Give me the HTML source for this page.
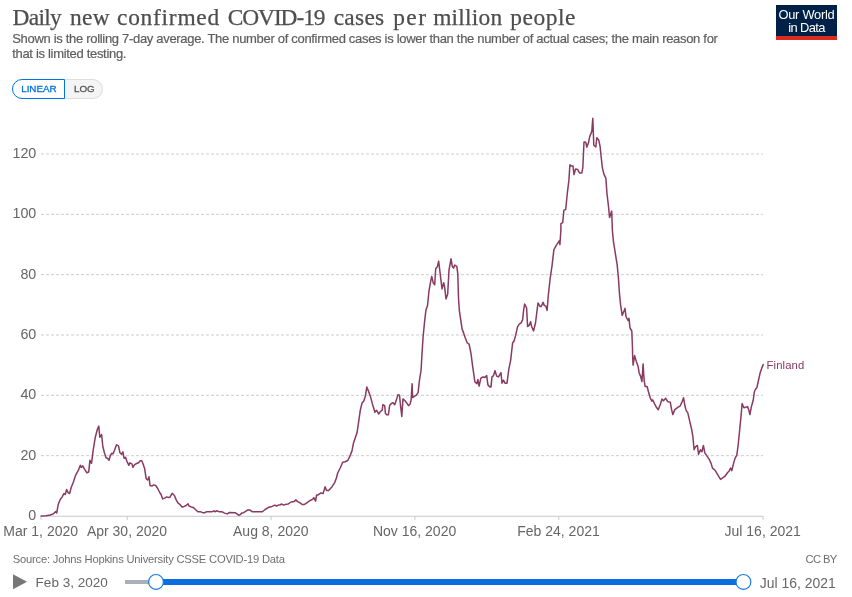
<!DOCTYPE html>
<html><head><meta charset="utf-8"><title>Daily new confirmed COVID-19 cases per million people</title>
<style>
html,body{margin:0;padding:0;background:#fff;}
body{width:852px;height:597px;position:relative;overflow:hidden;font-family:"Liberation Sans",sans-serif;}
.title span{position:absolute;top:0;}
.title{position:absolute;left:0;top:2px;width:600px;height:30px;font-family:"Liberation Serif",serif;font-size:23.4px;color:#4e4e4e;white-space:nowrap;line-height:30px;-webkit-text-stroke:0.25px #4e4e4e;}
.sub{position:absolute;left:12.2px;top:32.3px;font-size:13px;letter-spacing:-0.31px;line-height:14.3px;color:#5e5e5e;white-space:nowrap;-webkit-text-stroke:0.2px #5e5e5e;}
.logo{position:absolute;left:776px;top:5px;width:61px;height:31px;background:#002147;border-bottom:4px solid #dc2a1f;color:#fff;text-align:center;white-space:nowrap;}
.logo span{display:block;position:absolute;left:0;width:61px;line-height:14px;}
.l1{top:3.1px;font-size:12.9px;letter-spacing:-0.27px;}
.l2{top:16.1px;font-size:12.9px;letter-spacing:-0.6px;}
.btns{position:absolute;left:12px;top:79px;height:20px;display:flex;font-size:9.8px;}
.btns div{box-sizing:border-box;height:19.5px;line-height:18.5px;}
.b1{width:53px;border:1px solid #0073e6;border-radius:10px 0 0 10px;color:#0073e6;padding-left:8.2px;background:#fff;-webkit-text-stroke:0.3px #0073e6;}
.b2{width:38px;border:1px solid #ddd;border-left:none;border-radius:0 10px 10px 0;color:#555;padding-left:9px;background:#f4f4f4;-webkit-text-stroke:0.3px #555;}
svg{position:absolute;left:0;top:0;}
svg text{font-family:"Liberation Sans",sans-serif;}
.src{position:absolute;left:12.7px;top:551.6px;font-size:11.2px;letter-spacing:-0.2px;color:#6e6e6e;line-height:14px;white-space:nowrap;}
.cc{position:absolute;right:15.3px;top:551.6px;font-size:11.2px;letter-spacing:-0.6px;color:#6e6e6e;line-height:14px;}
.t1{position:absolute;left:35.6px;top:574.8px;font-size:13.55px;color:#666;line-height:16px;white-space:nowrap;}
.t2{position:absolute;left:759.8px;top:574.6px;font-size:13.95px;color:#666;line-height:16px;white-space:nowrap;}
</style></head><body>
<div class="title"><span style="left:12.5px;letter-spacing:-0.69px">Daily</span> <span style="left:70.0px;letter-spacing:0.36px">new</span> <span style="left:117.0px;letter-spacing:0.76px">confirmed</span> <span style="left:227.7px;letter-spacing:-1.06px">COVID-19</span> <span style="left:333.7px;letter-spacing:0.29px">cases</span> <span style="left:393.2px;letter-spacing:1.46px">per</span> <span style="left:433.2px;letter-spacing:0.23px">million</span> <span style="left:510.2px;letter-spacing:0.59px">people</span></div>
<div class="sub">Shown is the rolling 7-day average. The number of confirmed cases is lower than the number of actual cases; the main reason for<br>that is limited testing.</div>
<div class="logo"><span class="l1">Our World</span><span class="l2">in Data</span></div>
<div class="btns"><div class="b1">LINEAR</div><div class="b2">LOG</div></div>
<svg width="852" height="597" viewBox="0 0 852 597">
<g>
<line x1="41" x2="763" y1="455.67" y2="455.67" stroke="#cdcdcd" stroke-dasharray="3,2"/>
<line x1="41" x2="763" y1="395.33" y2="395.33" stroke="#cdcdcd" stroke-dasharray="3,2"/>
<line x1="41" x2="763" y1="335.00" y2="335.00" stroke="#cdcdcd" stroke-dasharray="3,2"/>
<line x1="41" x2="763" y1="274.67" y2="274.67" stroke="#cdcdcd" stroke-dasharray="3,2"/>
<line x1="41" x2="763" y1="214.33" y2="214.33" stroke="#cdcdcd" stroke-dasharray="3,2"/>
<line x1="41" x2="763" y1="154.00" y2="154.00" stroke="#cdcdcd" stroke-dasharray="3,2"/>
<line x1="40.5" x2="763.5" y1="516.25" y2="516.25" stroke="#c8c8c8"/>
<line x1="41" x2="41" y1="516.25" y2="519.9" stroke="#c8c8c8"/>
<line x1="127.3" x2="127.3" y1="516.25" y2="519.9" stroke="#c8c8c8"/>
<line x1="271.1" x2="271.1" y1="516.25" y2="519.9" stroke="#c8c8c8"/>
<line x1="414.9" x2="414.9" y1="516.25" y2="519.9" stroke="#c8c8c8"/>
<line x1="558.8" x2="558.8" y1="516.25" y2="519.9" stroke="#c8c8c8"/>
<line x1="763" x2="763" y1="516.25" y2="519.9" stroke="#c8c8c8"/>
</g>
<g font-size="14" fill="#666">
<text x="40.7" y="535.8" text-anchor="middle">Mar 1, 2020</text>
<text x="127.0" y="535.8" text-anchor="middle">Apr 30, 2020</text>
<text x="270.8" y="535.8" text-anchor="middle">Aug 8, 2020</text>
<text x="414.6" y="535.8" text-anchor="middle">Nov 16, 2020</text>
<text x="558.5" y="535.8" text-anchor="middle">Feb 24, 2021</text>
<text x="762.7" y="535.8" text-anchor="middle">Jul 16, 2021</text>
</g>
<g font-size="14.3" fill="#666">
<text x="36.3" y="519.9" text-anchor="end">0</text>
<text x="36.3" y="459.6" text-anchor="end">20</text>
<text x="36.3" y="399.2" text-anchor="end">40</text>
<text x="36.3" y="338.9" text-anchor="end">60</text>
<text x="36.3" y="278.6" text-anchor="end">80</text>
<text x="36.3" y="218.2" text-anchor="end">100</text>
<text x="36.3" y="157.9" text-anchor="end">120</text>
</g>
<polyline fill="none" stroke="#883a62" stroke-width="1.5" stroke-linejoin="round" stroke-linecap="round" points="41.1,516.0 46.1,515.8 50.1,515.0 53.1,514.0 55.7,511.6 56.7,513.0 58.2,504.6 60.2,499.5 62.2,496.9 63.8,493.7 65.2,494.5 66.6,489.5 68.2,492.9 69.6,493.5 71.2,487.5 73.2,482.4 75.8,474.8 78.3,470.4 80.3,465.3 81.3,467.4 82.7,465.8 84.7,469.4 86.9,472.8 88.7,472.0 89.9,460.3 91.5,463.3 93.3,449.3 95.3,437.2 97.4,429.2 98.8,426.1 99.8,437.2 101.6,434.6 102.8,446.2 104.4,452.7 106.0,457.7 107.4,458.3 109.0,460.3 110.4,455.3 111.8,453.3 113.0,453.9 114.5,450.3 116.5,444.8 118.5,445.8 119.9,452.7 121.5,454.3 122.9,451.9 124.1,458.3 125.5,457.3 126.9,461.3 128.9,465.3 129.9,462.9 131.9,463.9 132.9,467.4 134.6,464.7 136.6,463.5 138.6,462.7 140.2,460.7 141.8,460.7 143.2,464.3 144.6,468.4 146.2,478.8 147.6,480.0 149.0,476.8 150.0,485.5 151.8,486.1 153.7,484.9 155.7,485.5 157.7,488.5 159.7,492.5 161.1,494.5 162.7,498.9 164.7,498.1 166.7,496.9 168.7,497.5 170.0,497.2 172.1,493.3 174.4,495.5 176.2,499.9 177.9,502.9 179.7,504.3 182.0,506.9 184.1,506.4 186.2,505.5 188.0,503.7 189.0,506.0 191.1,506.9 193.2,507.4 195.5,509.5 197.8,511.7 200.8,511.8 202.6,512.7 204.9,512.7 206.6,511.7 212.3,511.7 214.0,510.8 214.9,511.8 217.2,510.8 218.9,511.7 221.9,511.8 224.6,513.1 227.2,513.9 229.5,512.5 235.1,512.7 238.7,515.2 240.1,514.8 241.8,513.1 243.6,512.7 245.7,511.3 247.8,509.9 250.1,510.1 252.4,511.8 262.4,511.8 265.1,509.5 268.6,507.3 272.1,506.4 274.8,505.1 276.5,506.0 278.3,505.1 280.6,504.8 281.3,503.9 283.6,505.1 286.2,504.3 288.3,503.9 291.1,502.0 294.1,501.6 295.9,499.9 297.6,501.6 300.3,503.0 302.0,504.4 304.5,504.4 307.5,502.4 310.6,500.2 312.6,499.4 313.8,497.6 315.6,501.2 316.6,494.9 318.1,494.9 320.6,493.1 323.1,493.6 325.1,486.8 326.6,490.6 328.6,490.6 331.4,487.6 334.7,482.6 336.4,478.0 337.7,473.0 340.2,468.0 342.7,462.2 345.2,461.7 347.7,460.5 349.7,456.7 352.0,450.9 353.5,442.9 355.3,437.8 357.0,432.8 358.5,422.8 360.3,410.2 362.1,402.7 363.6,401.4 365.3,396.4 366.8,387.1 368.6,391.4 370.4,396.4 372.4,403.9 373.6,407.7 374.9,412.2 376.6,410.2 378.6,414.0 380.4,411.5 382.2,410.2 382.9,404.7 384.7,405.7 385.4,413.2 386.7,414.7 388.4,414.7 389.7,405.2 391.5,403.4 393.0,402.7 394.7,404.7 396.5,399.6 398.0,394.6 399.5,395.1 400.5,405.2 401.8,416.5 403.0,398.9 405.0,400.7 406.5,402.7 408.5,405.7 410.1,403.9 411.1,400.2 412.1,383.8 412.6,397.6 414.3,396.4 416.3,395.1 418.1,392.6 419.3,381.3 421.1,370.0 421.9,355.5 423.1,336.7 424.6,321.6 425.9,310.3 427.6,305.3 428.9,291.5 430.2,283.9 431.7,276.4 433.2,282.7 434.7,284.7 435.7,268.8 437.2,267.1 438.7,261.3 440.2,273.9 442.0,288.9 443.7,282.7 444.7,287.7 446.0,299.0 447.7,294.0 449.0,270.1 451.0,258.8 452.3,266.3 453.5,268.1 454.8,265.1 456.8,266.3 457.8,273.9 458.5,297.7 459.3,310.3 460.8,320.4 462.1,329.1 463.6,332.9 465.3,337.9 467.3,343.0 469.1,344.2 470.9,353.0 472.9,368.1 474.9,381.9 476.9,383.7 477.9,379.4 479.1,386.2 480.9,378.1 482.9,376.9 484.9,377.4 486.7,375.6 487.9,384.9 489.9,386.9 491.0,386.9 492.0,376.9 493.5,375.6 495.0,370.6 496.7,376.1 498.5,376.9 501.0,372.6 502.0,383.2 503.5,380.2 505.0,383.2 507.0,383.2 508.8,369.3 510.6,360.6 512.6,343.0 514.1,341.0 515.6,335.4 517.6,326.6 519.3,324.1 521.1,322.9 522.6,319.8 523.6,310.3 524.6,304.0 526.6,307.8 527.6,326.6 529.1,325.4 530.7,321.6 531.3,325.5 533.5,331.0 535.5,323.0 538.0,302.9 540.1,306.6 541.1,306.6 543.1,302.4 544.3,305.4 545.8,306.1 547.1,310.4 548.3,295.3 550.1,279.0 552.1,265.2 553.9,249.6 556.4,245.1 559.4,240.8 559.9,244.6 560.9,230.0 560.9,223.6 562.7,222.6 563.9,210.1 565.7,209.5 567.2,194.2 568.9,180.4 569.9,164.8 571.2,166.1 573.0,166.1 574.0,174.6 575.5,169.1 577.7,169.6 579.5,172.9 581.8,172.9 582.8,167.8 584.0,142.0 585.8,142.2 586.8,147.2 588.5,142.7 589.8,136.4 591.8,131.4 592.8,118.3 593.8,145.2 595.8,147.0 596.8,137.7 598.8,140.2 600.1,146.5 601.1,156.5 602.4,167.8 603.9,174.1 605.9,178.4 606.9,193.0 608.4,205.5 609.6,217.6 611.7,211.1 612.4,230.7 613.4,241.3 615.4,253.9 617.2,265.2 618.4,277.7 619.4,292.8 620.5,304.1 622.2,315.4 623.7,311.7 625.0,308.4 626.0,316.7 628.0,320.5 629.0,318.4 630.0,328.0 631.8,331.0 632.5,348.1 632.6,355.1 633.1,365.1 634.6,355.6 636.3,361.4 638.1,366.4 639.1,372.7 640.6,376.4 641.9,381.5 643.1,363.9 644.1,380.2 645.1,386.5 647.1,386.5 648.4,391.5 650.2,397.8 651.9,401.1 652.7,399.8 654.7,404.1 656.4,407.3 658.2,409.8 660.2,404.8 662.0,399.0 663.5,400.8 665.7,398.3 667.7,401.6 670.3,402.3 671.5,409.1 672.8,414.6 674.8,409.6 677.8,407.3 680.3,405.8 682.1,401.6 683.6,397.8 684.8,405.3 686.1,410.4 687.8,412.9 689.8,421.7 691.6,429.2 692.9,436.7 694.1,449.8 695.4,446.8 697.4,445.5 698.6,454.3 700.4,449.8 701.9,451.8 703.4,445.5 704.9,453.1 706.7,455.6 709.2,459.3 711.0,463.1 712.5,468.1 715.0,470.2 717.5,474.4 720.5,479.4 723.0,477.7 725.0,476.2 727.5,472.7 729.3,470.7 730.6,468.1 731.8,470.7 733.6,463.1 735.1,458.1 736.8,455.1 738.1,445.5 739.6,430.5 741.1,415.4 742.1,403.6 743.9,407.8 745.6,407.3 747.6,406.6 748.9,410.4 749.9,414.6 751.4,406.6 753.2,400.3 754.4,391.5 755.7,389.0 756.9,387.7 758.2,381.5 760.2,372.7 762.0,367.6 763.2,364.6"/>
<text x="766.6" y="368.7" font-size="11.3" letter-spacing="0.1" fill="#883a62">Finland</text>
<path d="M13 574.3 L27 581.8 L13 589.3 Z" fill="#777"/>
<rect x="125" y="580" width="30" height="4" fill="#a9b0b8"/>
<rect x="155" y="579" width="588" height="6" fill="#0b6ee0"/>
<ellipse cx="155.7" cy="583.6" rx="7.5" ry="7" fill="#000" opacity="0.07"/>
<ellipse cx="743.3" cy="583.6" rx="7.5" ry="7" fill="#000" opacity="0.07"/>
<circle cx="156" cy="581.9" r="7.4" fill="#fff" stroke="#1a7be6" stroke-width="1.2"/>
<circle cx="743.4" cy="581.9" r="7.4" fill="#fff" stroke="#1a7be6" stroke-width="1.2"/>
</svg>
<div class="src">Source: Johns Hopkins University CSSE COVID-19 Data</div>
<div class="cc">CC BY</div>
<div class="t1">Feb 3, 2020</div>
<div class="t2">Jul 16, 2021</div>
</body></html>
